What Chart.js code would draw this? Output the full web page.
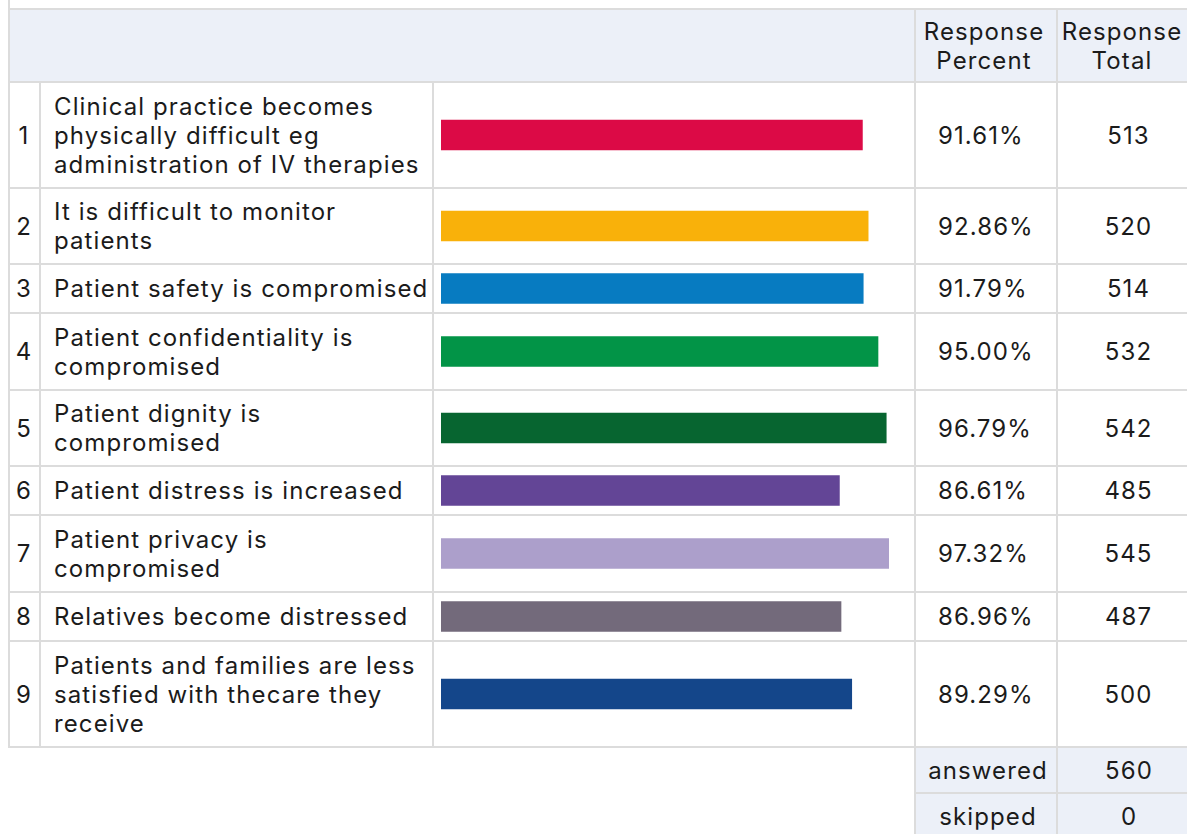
<!DOCTYPE html>
<html><head><meta charset="utf-8">
<script src="https://cdn.jsdelivr.net/npm/chart.js@4.4.1/dist/chart.umd.min.js"></script>
<style>
html,body{margin:0;padding:0;background:#fff;overflow:hidden;width:1187px;height:834px;}
#wrap{position:relative;width:1187px;height:834px;overflow:hidden;font-family:Inter,"Open Sans",sans-serif;color:#1b1b1b;font-size:24px;line-height:29px;letter-spacing:1.1px;}
.cell{position:absolute;box-sizing:border-box;border:2px solid #dcdcdc;display:flex;align-items:center;}
.hd{background:#ecf0f8;}
.c{justify-content:center;text-align:center;}
canvas{position:absolute;}
</style>
</head><body><div id="wrap"></div>
<script>
// ---- data ----
const choices = [
  "Clinical practice becomes physically difficult eg administration of IV therapies",
  "It is difficult to monitor patients",
  "Patient safety is compromised",
  "Patient confidentiality is compromised",
  "Patient dignity is compromised",
  "Patient distress is increased",
  "Patient privacy is compromised",
  "Relatives become distressed",
  "Patients and families are less satisfied with thecare they receive"
];
const labelLines = [
  ["Clinical practice becomes","physically difficult eg","administration of IV therapies"],
  ["It is difficult to monitor","patients"],
  ["Patient safety is compromised"],
  ["Patient confidentiality is","compromised"],
  ["Patient dignity is","compromised"],
  ["Patient distress is increased"],
  ["Patient privacy is","compromised"],
  ["Relatives become distressed"],
  ["Patients and families are less","satisfied with thecare they","receive"]
];
const responsePercent = [91.61, 92.86, 91.79, 95.00, 96.79, 86.61, 97.32, 86.96, 89.29];
const responseTotal = [513, 520, 514, 532, 542, 485, 545, 487, 500];
const barColors = ["#dc0a46","#f9b10a","#077bc1","#029447","#076530","#634596","#ac9fcb","#736a7b","#14468a"];
const headerLabels = ["Response<br>Percent","Response<br>Total"];
const answered = 560;
const skipped = 0;
const percentMax = 100;

// ---- layout ----
const wrap = document.getElementById('wrap');
const colX = [8, 39, 432, 914, 1056, 1200];
const rowY = [8, 81, 187, 263, 312, 389, 465, 514, 591, 640, 746, 792, 840];
function cell(x0, x1, y0, y1, html, cls, style){
  const d = document.createElement('div');
  d.className = 'cell ' + (cls||'');
  d.style.left = x0 + 'px'; d.style.top = y0 + 'px';
  d.style.width = (x1 - x0 + 2) + 'px'; d.style.height = (y1 - y0 + 2) + 'px';
  if (style) Object.assign(d.style, style);
  d.innerHTML = html || '';
  wrap.appendChild(d);
  return d;
}
// stub line above header
cell(colX[0], colX[0], -20, rowY[0], '', '', {borderWidth:'0 0 0 2px'});
// header
cell(colX[0], colX[3], rowY[0], rowY[1], '', 'hd');
cell(colX[3], colX[4], rowY[0], rowY[1], headerLabels[0], 'hd c', {paddingRight:'4px'});
cell(colX[4], colX[5], rowY[0], rowY[1], headerLabels[1], 'hd c', {paddingRight:'14px'});

choices.forEach((ch, i) => {
  const y0 = rowY[i+1], y1 = rowY[i+2];
  cell(colX[0], colX[1], y0, y1, String(i+1), 'c', {paddingRight:'1px'});
  cell(colX[1], colX[2], y0, y1, labelLines[i].join('<br>'), '', {paddingLeft:'13px', whiteSpace:'nowrap'});
  cell(colX[2], colX[3], y0, y1, '');
  cell(colX[3], colX[4], y0, y1, responsePercent[i].toFixed(2) + '%', '', {paddingLeft:'22px'});
  cell(colX[4], colX[5], y0, y1, String(responseTotal[i]), 'c', {paddingRight:'1px'});

  const cv = document.createElement('canvas');
  const w = colX[3] - colX[2] - 2, h = y1 - y0 - 2;
  cv.width = w; cv.height = h;
  cv.style.left = (colX[2] + 2) + 'px'; cv.style.top = (y0 + 2) + 'px';
  cv.style.width = w + 'px'; cv.style.height = h + 'px';
  wrap.appendChild(cv);
  new Chart(cv, {
    type: 'bar',
    data: { labels: [choices[i]], datasets: [{ data: [responsePercent[i]], backgroundColor: barColors[i], borderWidth: 0, barThickness: 30 }] },
    options: {
      indexAxis: 'y', responsive: false, animation: false, devicePixelRatio: 1,
      layout: { padding: { left: 7, right: 13, top: 0, bottom: 0 } },
      plugins: { legend: { display: false }, tooltip: { enabled: false } },
      scales: {
        x: { display: false, min: 0, max: percentMax, grid: { display: false } },
        y: { display: false, grid: { display: false } }
      }
    }
  });
});
// footer
cell(colX[3], colX[4], rowY[10], rowY[11], 'answered', 'hd c', {paddingLeft:'4px'});
cell(colX[4], colX[5], rowY[10], rowY[11], String(answered), 'hd c', {paddingRight:'0px'});
cell(colX[3], colX[4], rowY[11], rowY[12], 'skipped', 'hd c', {paddingLeft:'4px', alignItems:'flex-start', paddingTop:'8px'});
cell(colX[4], colX[5], rowY[11], rowY[12], String(skipped), 'hd c', {paddingRight:'0px', alignItems:'flex-start', paddingTop:'8px'});
</script>
</body></html>
